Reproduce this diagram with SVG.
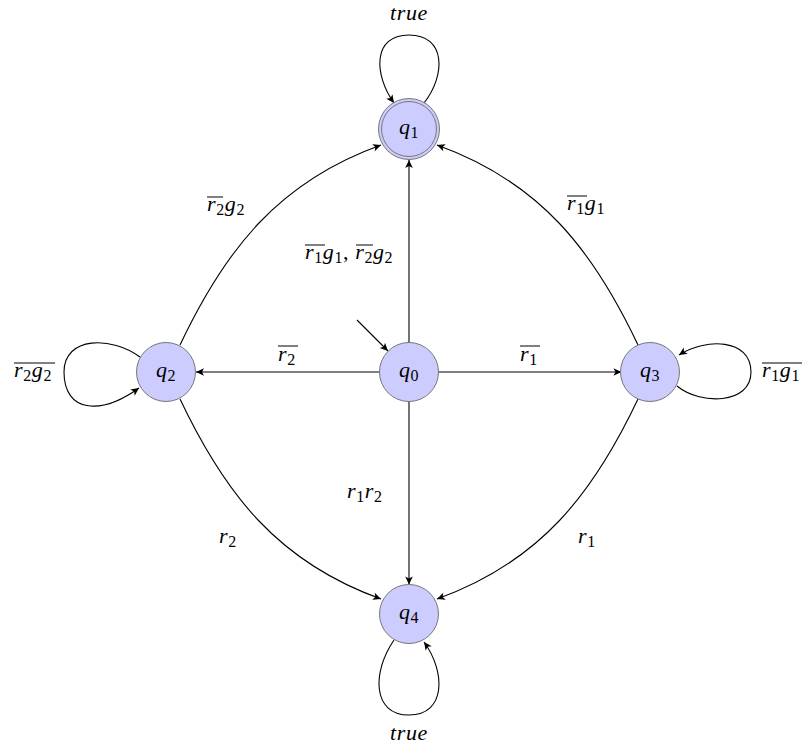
<svg xmlns="http://www.w3.org/2000/svg" width="807" height="749" viewBox="0 0 807 749">
<style>
.node{fill:#ccccff;stroke:#777;stroke-width:1}
.edge{fill:none;stroke:#000;stroke-width:1.1;marker-end:url(#arr)}
text{font-family:'Liberation Serif','Times New Roman',serif;font-size:22px;font-style:italic;fill:#000;letter-spacing:0.6px}
.s{font-size:16px;font-style:normal}
.ol{stroke:#000;stroke-width:1}
</style>
<defs>
<marker id="arr" viewBox="-9 -5 10 10" refX="0" refY="0" markerWidth="10" markerHeight="10" markerUnits="userSpaceOnUse" orient="auto">
<path d="M-8,-3.8 L0,0 L-8,3.8 L-6,0 Z" fill="#000"/>
</marker>
</defs>
<rect width="807" height="749" fill="#fff"/>
<g id="connectors">
<path class="edge" d="M357,320 L388,351"/>
<path class="edge" d="M409,342.5 L409,160"/>
<path class="edge" d="M379.5,372 L196,372"/>
<path class="edge" d="M438.5,372 L621.5,372"/>
<path class="edge" d="M409,401.5 L409,584.5"/>
<path class="edge" d="M180,345 C225,250 278,182 381,145"/>
<path class="edge" d="M638,345 C593,250 540,182 437,145"/>
<path class="edge" d="M180,399 C225,494 278,562 381,599"/>
<path class="edge" d="M638,399 C593,494 540,562 437,599"/>
<path class="edge" d="M424,103 C446,75 446,35 409,35 C372,35 374,75 394,103"/>
<path class="edge" d="M394,640 C372,672 372,715 409,715 C446,715 446,672 424,642"/>
<path class="edge" d="M140,357 C112,336 64,336 64,372 C64,412 100,416 139,388"/>
<path class="edge" d="M677,386 C700,405 751,405 751,372 C751,338 705,338 679,355"/>
</g>
<g id="q0">
<circle class="node" cx="409" cy="372" r="29.5"/>
<text x="409" y="377" text-anchor="middle">q<tspan class="s" dy="3.5">0</tspan></text>
</g>
<g id="q1">
<circle class="node" cx="409" cy="129" r="30.5"/>
<circle cx="409" cy="129" r="27.5" fill="none" stroke="#777" stroke-width="1"/>
<text x="409" y="134" text-anchor="middle">q<tspan class="s" dy="3.5">1</tspan></text>
</g>
<g id="q2">
<circle class="node" cx="166" cy="372" r="29.5"/>
<text x="166" y="377" text-anchor="middle">q<tspan class="s" dy="3.5">2</tspan></text>
</g>
<g id="q3">
<circle class="node" cx="650" cy="372" r="29.5"/>
<text x="650" y="377" text-anchor="middle">q<tspan class="s" dy="3.5">3</tspan></text>
</g>
<g id="q4">
<circle class="node" cx="409" cy="614" r="29.5"/>
<text x="409" y="619" text-anchor="middle">q<tspan class="s" dy="3.5">4</tspan></text>
</g>
<g id="labels">
<text x="409" y="20" text-anchor="middle">true</text>
<text x="409" y="740" text-anchor="middle">true</text>
<text x="207" y="211">r<tspan class="s" dy="3.5">2</tspan><tspan dy="-3.5">g</tspan><tspan class="s" dy="3.5">2</tspan></text>
<line class="ol" x1="207" y1="197" x2="223" y2="197"/>
<text x="305" y="259">r<tspan class="s" dy="3.5">1</tspan><tspan dy="-3.5">g</tspan><tspan class="s" dy="3.5">1</tspan><tspan dy="-3.5" font-style="normal">, </tspan><tspan>r</tspan><tspan class="s" dy="3.5">2</tspan><tspan dy="-3.5">g</tspan><tspan class="s" dy="3.5">2</tspan></text>
<line class="ol" x1="305" y1="245" x2="325" y2="245"/>
<line class="ol" x1="356" y1="245" x2="373" y2="245"/>
<text x="278" y="361">r<tspan class="s" dy="3.5">2</tspan></text>
<line class="ol" x1="278" y1="346" x2="298" y2="346"/>
<text x="520" y="361">r<tspan class="s" dy="3.5">1</tspan></text>
<line class="ol" x1="520" y1="346" x2="540" y2="346"/>
<text x="567" y="210">r<tspan class="s" dy="3.5">1</tspan><tspan dy="-3.5">g</tspan><tspan class="s" dy="3.5">1</tspan></text>
<line class="ol" x1="567" y1="196" x2="587" y2="196"/>
<text x="347" y="498">r<tspan class="s" dy="3.5">1</tspan><tspan dy="-3.5">r</tspan><tspan class="s" dy="3.5">2</tspan></text>
<text x="219" y="543">r<tspan class="s" dy="3.5">2</tspan></text>
<text x="578" y="543">r<tspan class="s" dy="3.5">1</tspan></text>
<text x="14" y="377">r<tspan class="s" dy="3.5">2</tspan><tspan dy="-3.5">g</tspan><tspan class="s" dy="3.5">2</tspan></text>
<line class="ol" x1="14" y1="363" x2="55" y2="363"/>
<text x="762" y="377">r<tspan class="s" dy="3.5">1</tspan><tspan dy="-3.5">g</tspan><tspan class="s" dy="3.5">1</tspan></text>
<line class="ol" x1="762" y1="363" x2="802" y2="363"/>
</g>
</svg>
